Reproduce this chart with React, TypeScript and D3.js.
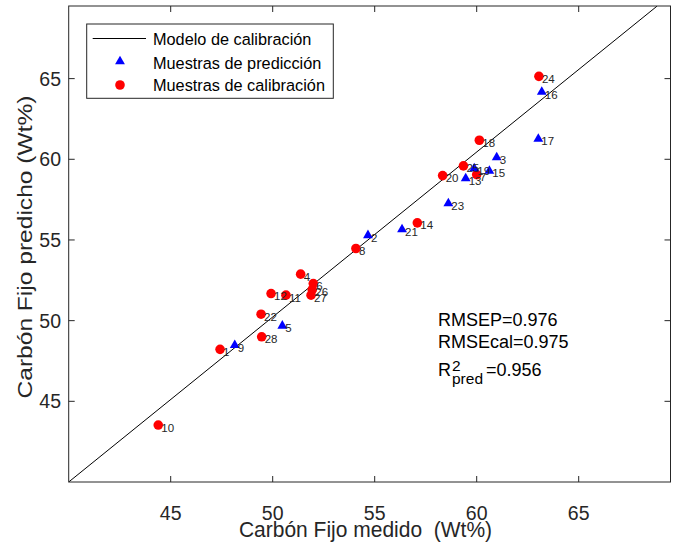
import React from 'react';
import * as d3 from 'd3';

const xTicks = [45, 50, 55, 60, 65];
const yTicks = [45, 50, 55, 60, 65];
const xDomain = [40, 69.5];
const yDomain = [40, 69.5];

const modelSlope = 1.0226;
const modelIntercept = -0.904;

const predId = [2, 3, 5, 9, 13, 15, 16, 17, 19, 21, 23];
const predX = [54.67, 60.98, 50.47, 48.14, 59.46, 60.62, 63.19, 63.02, 59.88, 56.34, 58.61];
const predY = [55.29, 60.11, 49.68, 48.48, 58.82, 59.28, 64.17, 61.26, 59.44, 55.65, 57.26];

const calId = [1, 4, 6, 7, 8, 10, 11, 12, 14, 18, 20, 22, 24, 25, 26, 27, 28];
const calX = [47.42, 51.37, 51.99, 60.0, 54.08, 44.39, 50.65, 49.92, 57.09, 60.13, 58.33, 49.43, 63.05, 59.35, 51.94, 51.88, 49.46];
const calY = [48.22, 52.88, 52.3, 59.05, 54.47, 43.53, 51.58, 51.68, 56.06, 61.18, 58.99, 50.4, 65.14, 59.59, 51.92, 51.58, 49.0];

const legendLabels = ['Modelo de calibración', 'Muestras de predicción', 'Muestras de calibración'];
const statLines = ['RMSEP=0.976', 'RMSEcal=0.975'];
const r2Value = '=0.956';

const W = 677;
const H = 546;
const L = 68.7, R = 670.5, T = 6, B = 482;
const FONT = '"Liberation Sans", Arial, Helvetica, sans-serif';

export default function App() {
  const x = d3.scaleLinear().domain(xDomain).range([L, R]);
  const y = d3.scaleLinear().domain(yDomain).range([B, T]);
  const tri = d3.symbol(d3.symbolTriangle, 42)();
  const axisColor = '#262626';
  const tl = 6;

  const mx0 = xDomain[0];
  const mx1 = (yDomain[1] - modelIntercept) / modelSlope;
  const modelLine = d3.line<number>()
    .x((d) => x(d))
    .y((d) => y(modelSlope * d + modelIntercept))([mx0, mx1]);

  return (
    <div style={{ position: 'absolute', left: 0, top: 0 }}>
      <svg width={W} height={H} style={{ display: 'block', background: '#fff' }} fontFamily={FONT}>
        <rect x={0} y={0} width={W} height={H} fill="#fff" />
        <defs>
          <clipPath id="plotclip">
            <rect x={L} y={T} width={R - L} height={B - T} />
          </clipPath>
        </defs>
        <path d={modelLine || ''} stroke="#000" strokeWidth={1} fill="none" clipPath="url(#plotclip)" />

        <rect x={L} y={T} width={R - L} height={B - T} fill="none" stroke={axisColor} strokeWidth={1} />
        {xTicks.map((t) => (
          <g key={'xt' + t}>
            <line x1={x(t)} x2={x(t)} y1={B} y2={B - tl} stroke={axisColor} />
            <line x1={x(t)} x2={x(t)} y1={T} y2={T + tl} stroke={axisColor} />
            <text x={x(t)} y={520} textAnchor="middle" fontSize={19.5} fill="#262626">{t}</text>
          </g>
        ))}
        {yTicks.map((t) => (
          <g key={'yt' + t}>
            <line x1={L} x2={L + tl} y1={y(t)} y2={y(t)} stroke={axisColor} />
            <line x1={R} x2={R - tl} y1={y(t)} y2={y(t)} stroke={axisColor} />
            <text x={61} y={y(t)} dy="0.36em" textAnchor="end" fontSize={19.5} fill="#262626">{t}</text>
          </g>
        ))}

        <text x={365.5} y={537} textAnchor="middle" fontSize={21} fill="#262626"
          style={{ whiteSpace: 'pre' }} transform={`translate(0,${537}) scale(1,1.08) translate(0,${-537})`}>Carbón Fijo medido  (Wt%)</text>
        <text transform={`translate(31.5,${(T + B) / 2 + 3}) rotate(-90) scale(1.17,1)`} textAnchor="middle" fontSize={21} fill="#262626">Carbón Fijo predicho (Wt%)</text>

        {calId.map((id, i) => (
          <circle key={'c' + id} cx={x(calX[i])} cy={y(calY[i])} r={4.8} fill="#ff0000" />
        ))}
        {predId.map((id, i) => (
          <path key={'p' + id} d={tri || ''} transform={`translate(${x(predX[i])},${y(predY[i])})`} fill="#0000ff" />
        ))}
        {calId.map((id, i) => (
          <text key={'cl' + id} x={x(calX[i]) + 3} y={y(calY[i]) + 2.5} dy="0.35em" fontSize={11.5} fill="#262626">{id}</text>
        ))}
        {predId.map((id, i) => (
          <text key={'pl' + id} x={x(predX[i]) + 3} y={y(predY[i]) + 2.5} dy="0.35em" fontSize={11.5} fill="#262626">{id}</text>
        ))}

        <text x={438} y={326} fontSize={18} fill="#000">{statLines[0]}</text>
        <text x={438} y={348} fontSize={18} fill="#000">{statLines[1]}</text>
        <text x={438} y={376} fontSize={18} fill="#000">R</text>
        <text x={452} y={371} fontSize={15.5} fill="#000">2</text>
        <text x={452} y={384} fontSize={15.5} fill="#000">pred</text>
        <text x={486} y={376} fontSize={18} fill="#000">{r2Value}</text>

        <rect x={86.7} y={24} width={246.6} height={74.3} fill="#fff" stroke={axisColor} strokeWidth={1} />
        <line x1={92.7} x2={146} y1={38.5} y2={38.5} stroke="#000" />
        <path d={tri || ''} transform="translate(120,61.5)" fill="#0000ff" />
        <circle cx={120} cy={85} r={4.8} fill="#ff0000" />
        <text x={153} y={45} fontSize={16.3} fill="#000">{legendLabels[0]}</text>
        <text x={153} y={68.5} fontSize={16.3} fill="#000">{legendLabels[1]}</text>
        <text x={153} y={91} fontSize={16.3} fill="#000">{legendLabels[2]}</text>
      </svg>
    </div>
  );
}
